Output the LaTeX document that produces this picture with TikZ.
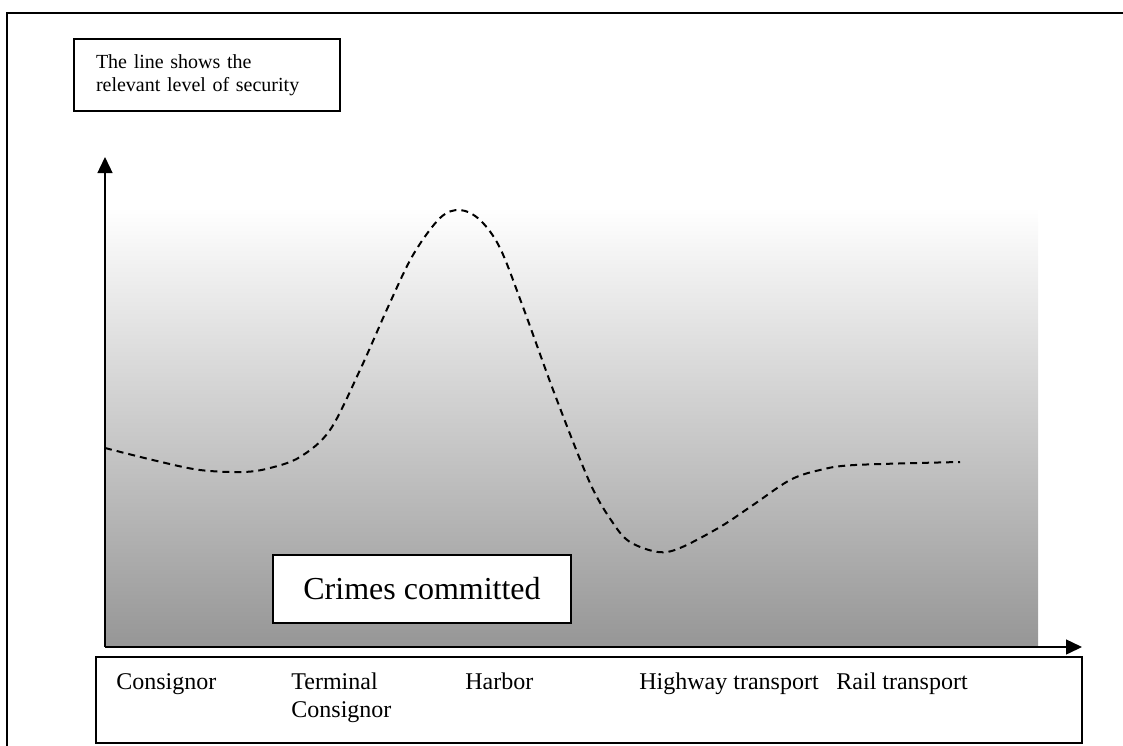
\documentclass[tikz,border=0pt]{standalone}
\usepackage{fontspec}
\setmainfont{Liberation Serif}
\usepackage{xcolor}
\usetikzlibrary{arrows.meta,positioning}

\definecolor{lowgray}{RGB}{150,150,150}

\begin{document}
\begin{tikzpicture}[
    x=0.5pt, y=-0.5pt,
    box/.style={draw, line width=0.6pt, fill=white, inner sep=0pt},
    catlabel/.style={anchor=base west, inner sep=0pt, align=left,
                     font=\fontsize{12}{14}\selectfont},
    axis/.style={line width=0.7pt, -{Triangle[length=8pt,width=7.5pt]}},
    security/.style={dash pattern=on 3.5pt off 2.5pt, line width=1pt},
    every node/.style={text=black}
]
\useasboundingbox (0,0) rectangle (1123,745);

% --- Outer frame ---
\draw[line width=1pt] (7,760) -- (7,13) -- (1130,13);

% --- Shaded level area ---
\shade[top color=white, bottom color=lowgray] (105,207) rectangle (1038,647);

% --- Axes ---
\coordinate (origin) at (105,647);
\coordinate (ytip)   at (105,157);
\coordinate (xtip)   at (1082,647);
\draw[axis] (origin) -- (ytip);
\draw[axis] (origin) -- (xtip);

% --- Security line ---
\draw[security] plot[smooth, tension=0.55] coordinates {
    (105,448) (157,461) (200,470) (243,472) (270,468) (300,457) (330,430)
    (360,370) (388,307) (413,255) (440,218) (460,210) (480,220) (500,248)
    (523,307) (555,395) (590,483) (613,523) (630,542) (658,552) (680,548)
    (720,527) (753,505) (790,480) (820,470) (855,465) (960,462)};

% --- Legend box ---
\node[box, minimum width=133pt, minimum height=36pt, text width=111pt,
      inner xsep=11pt, align=left, font=\fontsize{10}{11.5}\selectfont]
    (legend) at (207,75) {The line shows the\\relevant level of security};

% --- Crimes box ---
\node[box, minimum width=149pt, minimum height=34pt,
      font=\fontsize{16}{18}\selectfont] (crimes) at (422,589) {Crimes committed};

% --- Category box and labels ---
\node[box, minimum width=493pt, minimum height=43pt] (catbox) at (589,700) {};
\node[catlabel] (consignor) at (116,689) {Consignor};
\node[catlabel] (terminal)  at (291,717) {Terminal\\Consignor};
\node[catlabel] (harbor)    at (465,689) {Harbor};
\node[catlabel] (highway)   at (639,689) {Highway transport};
\node[catlabel] (rail)      at (836,689) {Rail transport};

\end{tikzpicture}
\end{document}
